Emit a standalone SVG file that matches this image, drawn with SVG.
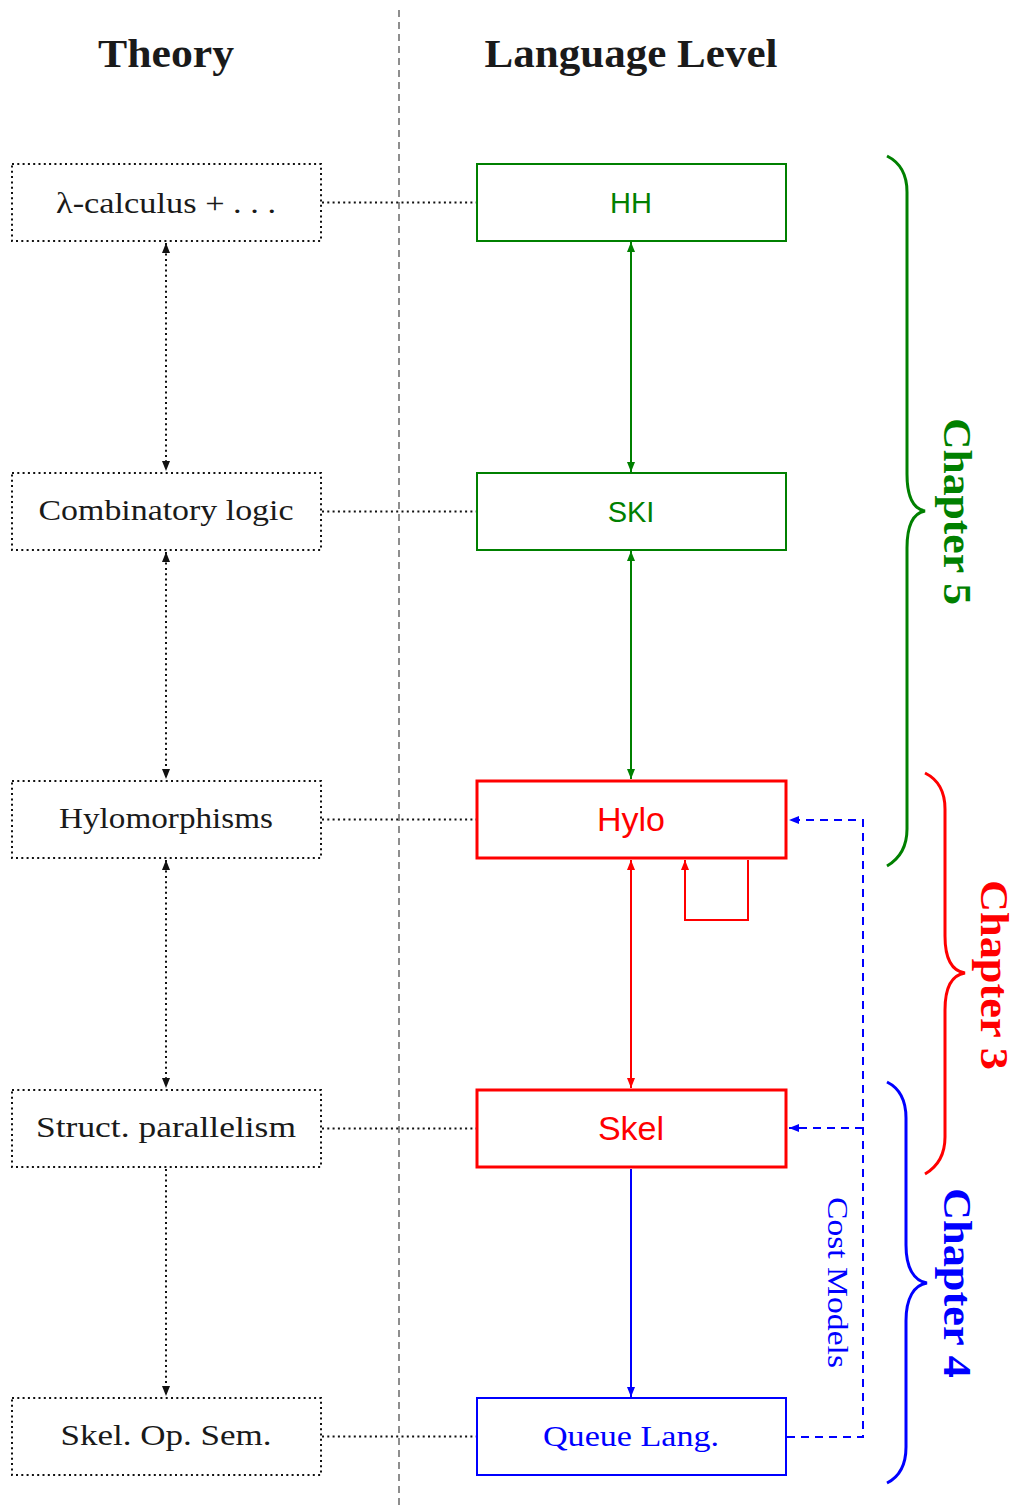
<svg xmlns="http://www.w3.org/2000/svg" width="1014" height="1508" viewBox="0 0 1014 1508">
<style>
.serif{font-family:"Liberation Serif","Times New Roman",serif;}
.sans{font-family:"Liberation Sans",Arial,sans-serif;}
.lbl{font-size:30px;fill:#1a1a1a;text-anchor:middle;}
.hdr{font-size:40px;font-weight:bold;fill:#1a1a1a;text-anchor:middle;}
.tbox{fill:none;stroke:#111;stroke-width:2;stroke-dasharray:2 3.3;}
.dot{fill:none;stroke:#111;stroke-width:2;stroke-dasharray:2 3.3;}
.g{stroke:#008000;fill:none;stroke-width:2;}
.r{stroke:#ff0000;fill:none;stroke-width:2;}
.rb{stroke:#ff0000;fill:none;stroke-width:3;}
.b{stroke:#0000ff;fill:none;stroke-width:2;}
.bd{stroke:#0000ff;fill:none;stroke-width:2;stroke-dasharray:8 6;}
.chap{font-size:40px;font-weight:bold;text-anchor:middle;}
</style>
<defs>
<marker id="ak" viewBox="0 0 10 8" refX="10" refY="4" markerWidth="10" markerHeight="8" markerUnits="userSpaceOnUse" orient="auto-start-reverse"><path d="M0,0 L10,4 L0,8 Z" fill="#111"/></marker>
<marker id="ag" viewBox="0 0 10 8" refX="10" refY="4" markerWidth="10" markerHeight="8" markerUnits="userSpaceOnUse" orient="auto-start-reverse"><path d="M0,0 L10,4 L0,8 Z" fill="#008000"/></marker>
<marker id="ar" viewBox="0 0 10 8" refX="10" refY="4" markerWidth="10" markerHeight="8" markerUnits="userSpaceOnUse" orient="auto-start-reverse"><path d="M0,0 L10,4 L0,8 Z" fill="#ff0000"/></marker>
<marker id="ab" viewBox="0 0 10 8" refX="10" refY="4" markerWidth="10" markerHeight="8" markerUnits="userSpaceOnUse" orient="auto-start-reverse"><path d="M0,0 L10,4 L0,8 Z" fill="#0000ff"/></marker>
</defs>
<rect width="1014" height="1508" fill="#ffffff"/>

<g id="headers">
<text class="serif hdr" x="166" y="67" textLength="136" lengthAdjust="spacingAndGlyphs">Theory</text>
<text class="serif hdr" x="631" y="67" textLength="293" lengthAdjust="spacingAndGlyphs">Language Level</text>
</g>
<line id="separator" x1="399" y1="10" x2="399" y2="1508" stroke="#444" stroke-width="1.2" stroke-dasharray="7 5"/>

<g id="n-lambda"><rect class="tbox" x="12" y="164" width="309" height="77"/><text class="serif lbl" x="166" y="213" textLength="220" lengthAdjust="spacingAndGlyphs">λ-calculus + . . .</text></g>
<g id="n-comb"><rect class="tbox" x="12" y="473" width="309" height="77"/><text class="serif lbl" x="166" y="520" textLength="255" lengthAdjust="spacingAndGlyphs">Combinatory logic</text></g>
<g id="n-hylomorph"><rect class="tbox" x="12" y="781" width="309" height="77"/><text class="serif lbl" x="166" y="828" textLength="214" lengthAdjust="spacingAndGlyphs">Hylomorphisms</text></g>
<g id="n-struct"><rect class="tbox" x="12" y="1090" width="309" height="77"/><text class="serif lbl" x="166" y="1137" textLength="260" lengthAdjust="spacingAndGlyphs">Struct. parallelism</text></g>
<g id="n-skelop"><rect class="tbox" x="12" y="1398" width="309" height="77"/><text class="serif lbl" x="166" y="1445" textLength="211" lengthAdjust="spacingAndGlyphs">Skel. Op. Sem.</text></g>

<g id="n-hh"><rect class="g" x="477" y="164" width="309" height="77"/><text class="sans" x="631" y="213" font-size="29" fill="#008000" text-anchor="middle">HH</text></g>
<g id="n-ski"><rect class="g" x="477" y="473" width="309" height="77"/><text class="sans" x="631" y="522" font-size="29" fill="#008000" text-anchor="middle">SKI</text></g>
<g id="n-hylo"><rect class="rb" x="477" y="781" width="309" height="77"/><text class="sans" x="631" y="831" font-size="34" fill="#ff0000" text-anchor="middle">Hylo</text></g>
<g id="n-skel"><rect class="rb" x="477" y="1090" width="309" height="77"/><text class="sans" x="631" y="1140" font-size="34" fill="#ff0000" text-anchor="middle">Skel</text></g>
<g id="n-queue"><rect class="b" x="477" y="1398" width="309" height="77"/><text class="serif" x="631" y="1446" font-size="30" fill="#0000ff" text-anchor="middle" textLength="176" lengthAdjust="spacingAndGlyphs">Queue Lang.</text></g>

<g id="connectors">
<line class="dot" x1="322" y1="202.5" x2="476" y2="202.5"/>
<line class="dot" x1="322" y1="511.5" x2="476" y2="511.5"/>
<line class="dot" x1="322" y1="819.5" x2="476" y2="819.5"/>
<line class="dot" x1="322" y1="1128.5" x2="476" y2="1128.5"/>
<line class="dot" x1="322" y1="1436.5" x2="476" y2="1436.5"/>

<line class="dot" x1="166" y1="243" x2="166" y2="471" marker-start="url(#ak)" marker-end="url(#ak)"/>
<line class="dot" x1="166" y1="552" x2="166" y2="779" marker-start="url(#ak)" marker-end="url(#ak)"/>
<line class="dot" x1="166" y1="860" x2="166" y2="1088" marker-start="url(#ak)" marker-end="url(#ak)"/>
<line class="dot" x1="166" y1="1169" x2="166" y2="1396" marker-end="url(#ak)"/>

<line class="g" x1="631" y1="242" x2="631" y2="472" marker-start="url(#ag)" marker-end="url(#ag)"/>
<line class="g" x1="631" y1="551" x2="631" y2="779" marker-start="url(#ag)" marker-end="url(#ag)"/>
<line class="r" x1="631" y1="860" x2="631" y2="1088" marker-start="url(#ar)" marker-end="url(#ar)"/>
<line class="b" x1="631" y1="1169" x2="631" y2="1397" marker-end="url(#ab)"/>

<path class="r" d="M748,860 L748,920 L685,920 L685,860" marker-end="url(#ar)"/>

<path class="bd" d="M787,1437 L863,1437 L863,820 L789,820" marker-end="url(#ab)"/>
<path class="bd" d="M863,1128 L789,1128" marker-end="url(#ab)"/>
<text class="serif" transform="translate(828,1282.5) rotate(90)" font-size="29" fill="#0000ff" text-anchor="middle" textLength="171" lengthAdjust="spacingAndGlyphs">Cost Models</text>
</g>

<g id="brace-ch5">
<path d="M887,156 C899,162 907,172 907,192 L907,474 C907,497 914,509 925,511 C914,513 907,525 907,548 L907,829 C907,848 899,859 887,866" stroke="#008000" stroke-width="3" fill="none"/>
<text class="serif chap" transform="translate(944,511.5) rotate(90)" fill="#008000" textLength="187" lengthAdjust="spacingAndGlyphs">Chapter 5</text>
</g>
<g id="brace-ch3">
<path d="M925,773 C937,779 945,789 945,809 L945,936 C945,959 952,971 965,973 C952,975 945,987 945,1010 L945,1137 C945,1156 937,1167 925,1174" stroke="#ff0000" stroke-width="3" fill="none"/>
<text class="serif chap" transform="translate(981,975) rotate(90)" fill="#ff0000" textLength="190" lengthAdjust="spacingAndGlyphs">Chapter 3</text>
</g>
<g id="brace-ch4">
<path d="M887,1082 C899,1088 906,1099 906,1118 L906,1245 C906,1268 914,1281 927,1283 C914,1285 906,1298 906,1321 L906,1447 C906,1466 899,1477 887,1483" stroke="#0000ff" stroke-width="3" fill="none"/>
<text class="serif chap" transform="translate(944,1283) rotate(90)" fill="#0000ff" textLength="190" lengthAdjust="spacingAndGlyphs">Chapter 4</text>
</g>
</svg>
